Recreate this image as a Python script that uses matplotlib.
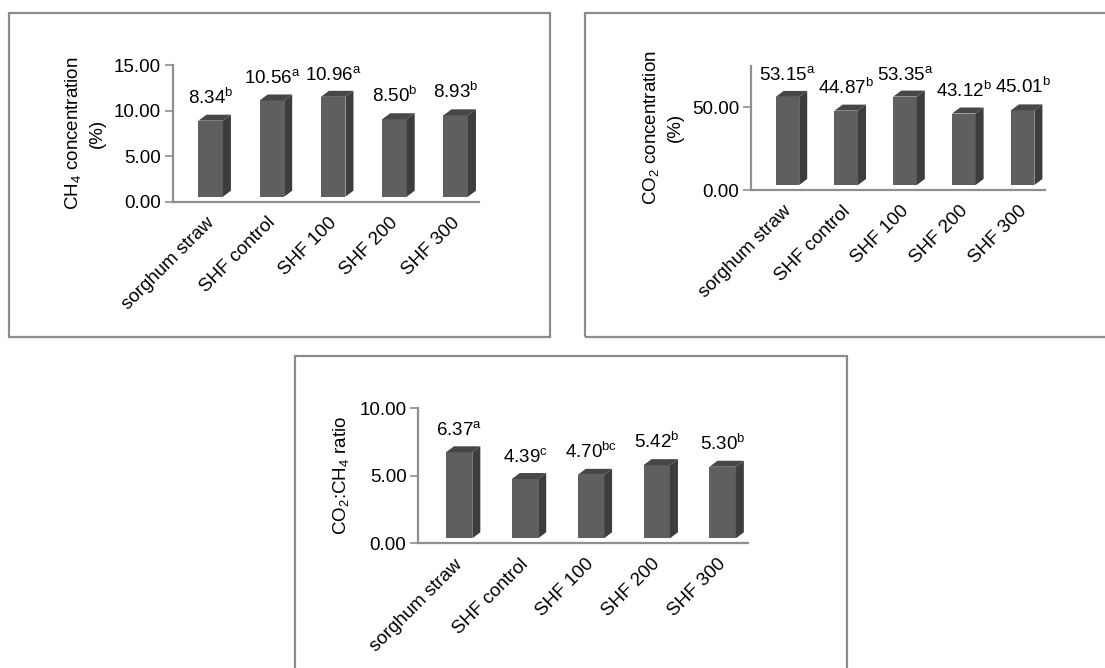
import numpy as np
import matplotlib
matplotlib.use("Agg")
import matplotlib.pyplot as plt
from matplotlib.patches import Polygon, Rectangle
from matplotlib.transforms import IdentityTransform

plt.rcParams['font.family'] = ['Liberation Sans', 'DejaVu Sans']
plt.rcParams['mathtext.fontset'] = 'custom'
plt.rcParams['mathtext.rm'] = 'Liberation Sans'
plt.rcParams['mathtext.it'] = 'Liberation Sans'

categories = ['sorghum straw', 'SHF control', 'SHF 100', 'SHF 200', 'SHF 300']

ch4_values = [8.34, 10.56, 10.96, 8.50, 8.93]
ch4_letters = ['b', 'a', 'a', 'b', 'b']

co2_values = [53.15, 44.87, 53.35, 43.12, 45.01]
co2_letters = ['a', 'b', 'a', 'b', 'b']

ratio_values = [6.37, 4.39, 4.70, 5.42, 5.30]
ratio_letters = ['a', 'c', 'bc', 'b', 'b']

W, H = 1105, 668
fig = plt.figure(figsize=(W / 100, H / 100), dpi=100)

FRONT = '#5f5f5f'
SIDE = '#3d3d3d'
TOP = '#474747'
GRID = '#8f8f8f'
FS = 13.5


def px_rect(x0, y0, x1, y1):
    # pixel box (top-left origin) -> figure fraction [l, b, w, h]
    return [x0 / W, 1 - y1 / H, (x1 - x0) / W, (y1 - y0) / H]


def frame(x0, y0, x1, y1):
    l, b, w, h = px_rect(x0, y0, x1, y1)
    fig.add_artist(Rectangle((l, b), w, h, transform=fig.transFigure,
                             fill=False, edgecolor='#8c8c8c', lw=1.6))


def bar3d(ax, values, letters, fmt='{:.2f}'):
    lift, dx, dy = 5, 8, 6
    x = np.arange(len(values))
    bars = ax.bar(x + 0.12, values, width=0.4, color=FRONT)
    fig.canvas.draw()
    for rect, v, lt in zip(bars, values, letters):
        x0, y0 = ax.transData.transform((rect.get_x(), 0))
        x1, y1 = ax.transData.transform((rect.get_x() + rect.get_width(), v))
        y0 += lift
        y1 += lift
        rect.remove()
        front = [(x0, y0), (x1, y0), (x1, y1), (x0, y1)]
        side = [(x1, y0), (x1 + dx, y0 + dy), (x1 + dx, y1 + dy), (x1, y1)]
        top = [(x0, y1), (x1, y1), (x1 + dx, y1 + dy), (x0 + dx, y1 + dy)]
        for pts, c in ((front, FRONT), (side, SIDE), (top, TOP)):
            ax.add_patch(Polygon(pts, closed=True, facecolor=c, edgecolor='none',
                                 transform=IdentityTransform(), clip_on=False))
        ax.annotate(fmt.format(v) + r'$^{\mathrm{' + lt + '}}$',
                    xy=((x0 + x1) / 2, y1), xycoords=IdentityTransform(),
                    xytext=(0, 17), textcoords='offset pixels',
                    ha='center', va='baseline', fontsize=FS)


def style(ax, ylim, yticks, ylabel):
    ax.set_xlim(-0.5, len(categories) - 0.5)
    ax.set_ylim(*ylim)
    ax.set_yticks(yticks)
    ax.set_yticklabels(['{:.2f}'.format(t) for t in yticks], fontsize=FS)
    ax.set_xticks(np.arange(len(categories)) + 0.04)
    ax.set_xticklabels(categories, rotation=45, ha='right',
                       rotation_mode='anchor', fontsize=FS)
    ax.tick_params(axis='x', length=0, pad=9)
    ax.tick_params(axis='y', length=5.5, width=1.2, color=GRID, direction='out', pad=3)
    for s in ('top', 'right'):
        ax.spines[s].set_visible(False)
    for s in ('left', 'bottom'):
        ax.spines[s].set_color(GRID)
        ax.spines[s].set_linewidth(1.6)
    ax.set_ylabel(ylabel, fontsize=FS, linespacing=1.45, labelpad=6)
    ax.patch.set_alpha(0)


# panel frames
frame(9, 13, 550, 337)
frame(585, 13, 1110, 337)
frame(295, 356, 847, 680)

ax1 = fig.add_axes(px_rect(172.7, 65, 479, 201.7))
style(ax1, (0, 15), [0, 5, 10, 15], 'CH$_4$ concentration\n(%)')

ax2 = fig.add_axes(px_rect(751, 65.7, 1045, 190))
style(ax2, (0, 75), [0, 50], 'CO$_2$ concentration\n(%)')

ax3 = fig.add_axes(px_rect(418.3, 408.3, 747.7, 543.3))
style(ax3, (0, 10), [0, 5, 10], 'CO$_2$:CH$_4$ ratio')

bar3d(ax1, ch4_values, ch4_letters)
bar3d(ax2, co2_values, co2_letters)
bar3d(ax3, ratio_values, ratio_letters)

fig.savefig('out.png', dpi=100)
